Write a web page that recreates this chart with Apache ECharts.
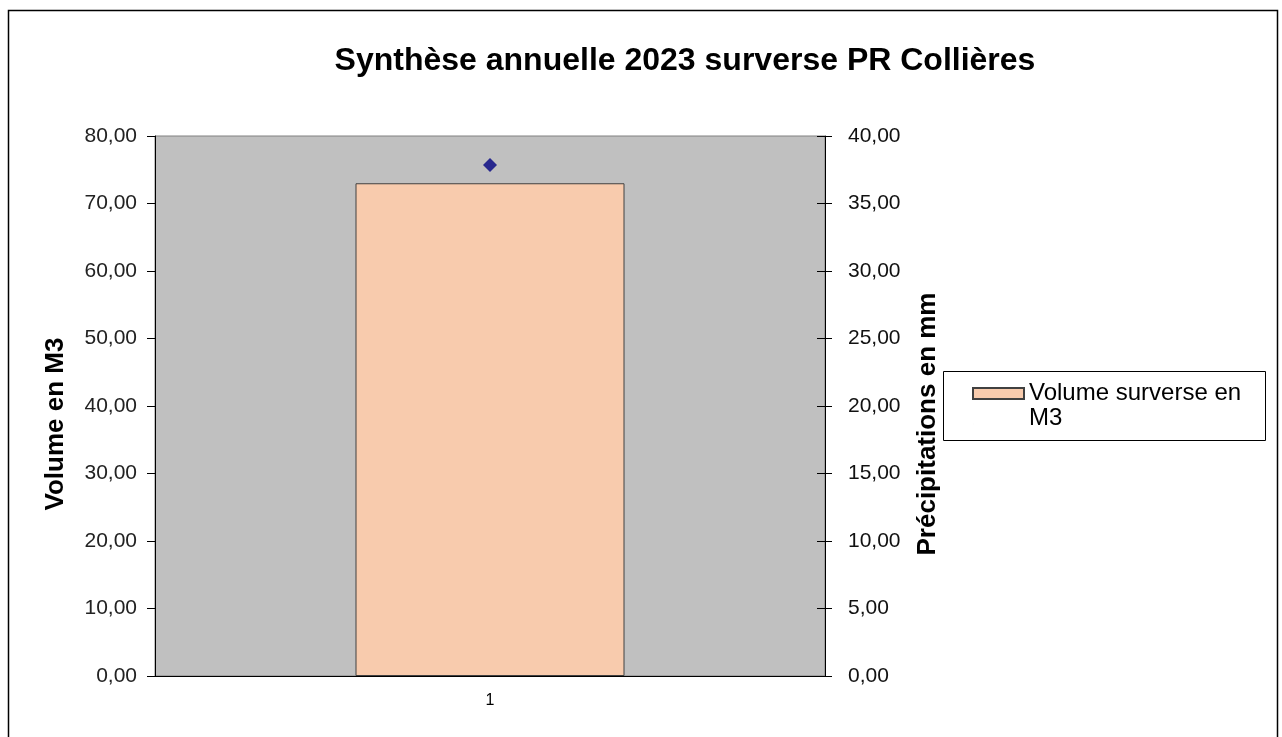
<!DOCTYPE html>
<html>
<head>
<meta charset="utf-8">
<script src="https://cdn.jsdelivr.net/npm/echarts@6/dist/echarts.min.js"></script>
<style>
html,body{margin:0;padding:0;background:#fff;}
#c{width:1282px;height:737px;}
</style>
</head>
<body>
<div id="c"></div>
<script>
const categories = ['1'];
const volumeSurverse = [73.0];
const precipitations = [37.85];
const leftTicks = {min: 0, max: 80, interval: 10};
const rightTicks = {min: 0, max: 40, interval: 5};

const FONT = 'Arial, "Liberation Sans", sans-serif';
const fmt = v => v.toFixed(2).replace('.', ',');

const chart = echarts.init(document.getElementById('c'), null, {renderer: 'canvas'});
chart.setOption({
  animation: false,
  backgroundColor: '#fff',
  title: {
    text: 'Synthèse annuelle 2023 surverse PR Collières',
    left: 680, top: 40, textAlign: 'center',
    textStyle: {fontFamily: FONT, fontSize: 32, fontWeight: 'bold', color: '#000'}
  },
  graphic: [
    {type: 'rect', shape: {x: 8.5, y: 10.5, width: 1269, height: 760}, style: {fill: 'none', stroke: '#000', lineWidth: 1.5}, z: -1},
    {type: 'rect', shape: {x: 943.5, y: 371.5, width: 322, height: 69}, style: {fill: '#fff', stroke: '#000', lineWidth: 1}, z: 1}
  ],
  legend: {
    data: ['Volume surverse en\nM3'],
    left: 967, top: 376, orient: 'vertical',
    itemWidth: 51, itemHeight: 36, itemGap: 4,
    icon: 'path://M0,0 L51,0 L51,11 L0,11 Z M0,36 L0.01,36',
    textStyle: {fontFamily: FONT, fontSize: 24, color: '#000', lineHeight: 25},
    z: 5
  },
  grid: {left: 155, top: 136, width: 670, height: 540, show: true, backgroundColor: '#C0C0C0', borderColor: '#808080', borderWidth: 1},
  xAxis: {
    type: 'category', data: categories,
    axisLine: {lineStyle: {color: '#000', width: 1}},
    axisTick: {show: false},
    axisLabel: {fontFamily: FONT, fontSize: 16, color: '#000', margin: 17}
  },
  yAxis: [
    {
      type: 'value', position: 'left', min: leftTicks.min, max: leftTicks.max, interval: leftTicks.interval,
      name: 'Volume en M3', nameLocation: 'middle', nameGap: 86, nameRotate: 90,
      nameTextStyle: {fontFamily: FONT, fontSize: 26, fontWeight: 'bold', color: '#000', padding: [0, 36, 0, 0]},
      axisLine: {show: true, lineStyle: {color: '#000'}},
      axisTick: {show: true, length: 8, lineStyle: {color: '#000'}},
      axisLabel: {fontFamily: FONT, fontSize: 21, color: '#222', margin: 18, formatter: fmt},
      splitLine: {show: false}
    },
    {
      type: 'value', position: 'right', min: rightTicks.min, max: rightTicks.max, interval: rightTicks.interval,
      name: 'Précipitations en mm', nameLocation: 'middle', nameGap: 90, nameRotate: 90,
      nameTextStyle: {fontFamily: FONT, fontSize: 26, fontWeight: 'bold', color: '#000', padding: [0, 36, 0, 0]},
      axisLine: {show: true, lineStyle: {color: '#000'}},
      axisTick: {show: true, length: 7, lineStyle: {color: '#000'}},
      axisLabel: {fontFamily: FONT, fontSize: 21, color: '#111', margin: 23, formatter: fmt},
      splitLine: {show: false}
    },
    {
      type: 'value', position: 'right', min: rightTicks.min, max: rightTicks.max, interval: rightTicks.interval,
      axisLine: {show: false},
      axisTick: {show: true, inside: true, length: 8, lineStyle: {color: '#000'}},
      axisLabel: {show: false},
      splitLine: {show: false}
    }
  ],
  series: [
    {
      name: 'Volume surverse en\nM3', type: 'bar', yAxisIndex: 0, data: volumeSurverse,
      barWidth: 269,
      itemStyle: {color: '#F8CBAD', borderColor: '#404040', borderWidth: 1}
    },
    {
      name: 'Précipitations', type: 'scatter', yAxisIndex: 1, data: precipitations,
      symbol: 'diamond', symbolSize: [14, 14],
      itemStyle: {color: '#000080'}
    }
  ]
});
</script>
</body>
</html>
